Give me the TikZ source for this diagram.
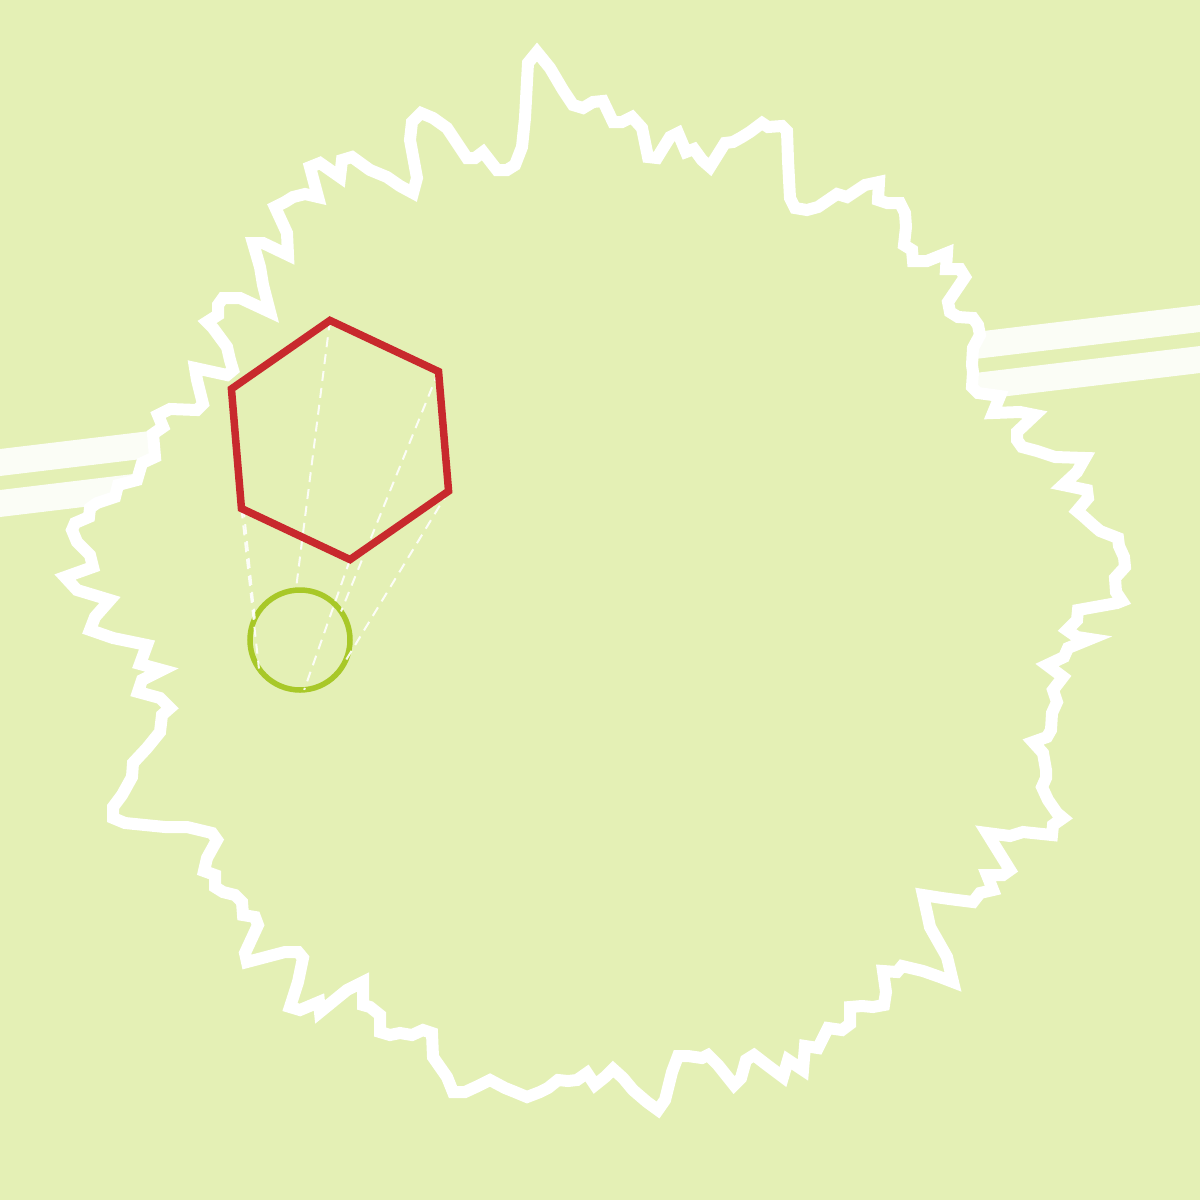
\documentclass[tikz,border=0pt]{standalone}
\usetikzlibrary{calc}
\definecolor{bgc}{RGB}{228,240,181}
\definecolor{hexred}{RGB}{200,41,45}
\definecolor{ringgreen}{RGB}{168,200,40}
\tikzset{
  barband/.style={line width=26.8pt, white, opacity=0.88, line cap=butt},
  outline/.style={line width=12pt, white, fill=bgc, line join=miter, miter limit=10},
  hexline/.style={line width=7.5pt, hexred, line join=miter},
  ringline/.style={line width=5.5pt, ringgreen},
  dashline/.style={line width=2pt, white, opacity=0.9, dash pattern=on 10pt off 7pt}
}
\begin{document}
\begin{tikzpicture}[x=1pt,y=-1pt]
\fill[bgc] (0,0) rectangle (1200,1200);
\useasboundingbox (0,0) rectangle (1200,1200);
% bar (two bands)
\coordinate (b1s) at (-5,463.1);
\coordinate (b1e) at (1205,317.9);
\coordinate (b2s) at (-5,504.1);
\coordinate (b2e) at (1205,358.9);
\draw[barband] (b1s) -- (b1e);
\draw[barband] (b2s) -- (b2e);
% jagged outline
\draw[outline] (203,404) -- (197,380) -- (195,368) -- (227,375) -- (233,370) -- (230,360) -- (227,347) -- (213,328) -- (207,322) -- (218,315) -- (218,305) -- (223,298) -- (240,298) -- (270,312) -- (263,285) -- (260,267) -- (253,243) -- (263,243) -- (288,255) -- (287,233) -- (275,207) -- (285,202) -- (293,197) -- (305,194) -- (318,197) -- (310,167) -- (320,163) -- (340,177) -- (342,160) -- (352,157) -- (370,170) -- (387,177) -- (400,186) -- (413,193) -- (417,178) -- (410,140) -- (412,122) -- (421,113) -- (433,118) -- (447,128) -- (467,158) -- (475,158) -- (483,152) -- (497,170) -- (507,170) -- (515,165) -- (522,147) -- (525,118) -- (528,63) -- (537,52) -- (550,68) -- (563,90) -- (573,105) -- (583,108) -- (593,102) -- (603,101) -- (613,122) -- (622,122) -- (632,117) -- (642,128) -- (648,157) -- (657,158) -- (670,137) -- (678,133) -- (686,152) -- (694,149) -- (702,160) -- (710,167) -- (725,143) -- (733,142) -- (742,137) -- (750,132) -- (762,123) -- (768,127) -- (782,126) -- (787,131) -- (788,160) -- (790,198) -- (795,208) -- (807,210) -- (818,207) -- (837,194) -- (847,197) -- (865,185) -- (879,182) -- (878,200) -- (887,203) -- (900,203) -- (905,213) -- (906,227) -- (904,245) -- (912,250) -- (913,261) -- (927,261) -- (947,253) -- (946,269) -- (960,269) -- (965,277) -- (948,302) -- (950,312) -- (958,317) -- (973,318) -- (978,325) -- (980,335) -- (973,348) -- (972,365) -- (973,372) -- (972,387) -- (978,393) -- (1000,396) -- (993,413) -- (1020,412) -- (1035,415) -- (1017,432) -- (1017,440) -- (1022,447) -- (1037,451) -- (1055,457) -- (1085,458) -- (1077,472) -- (1063,485) -- (1087,490) -- (1088,498) -- (1077,511) -- (1083,516) -- (1093,525) -- (1100,531) -- (1118,538) -- (1119,546) -- (1124,557) -- (1125,567) -- (1115,578) -- (1116,592) -- (1122,601) -- (1117,603) -- (1078,610) -- (1077,620) -- (1067,630) -- (1077,637) -- (1090,639) -- (1068,648) -- (1064,657) -- (1047,665) -- (1063,677) -- (1053,690) -- (1057,702) -- (1052,713) -- (1051,730) -- (1047,737) -- (1033,742) -- (1043,753) -- (1046,770) -- (1046,778) -- (1042,787) -- (1048,800) -- (1057,813) -- (1063,818) -- (1053,825) -- (1052,835) -- (1023,832) -- (1010,836) -- (987,833) -- (1010,870) -- (1003,875) -- (987,875) -- (993,890) -- (980,893) -- (973,902) -- (957,900) -- (942,898) -- (923,895) -- (927,913) -- (930,927) -- (947,957) -- (953,982) -- (940,977) -- (923,971) -- (902,966) -- (897,972) -- (883,971) -- (886,992) -- (884,1005) -- (873,1007) -- (862,1006) -- (850,1007) -- (850,1024) -- (842,1030) -- (828,1028) -- (818,1048) -- (805,1046) -- (803,1070) -- (788,1060) -- (783,1077) -- (767,1065) -- (754,1055) -- (746,1060) -- (741,1078) -- (734,1085) -- (718,1065) -- (708,1055) -- (702,1058) -- (688,1056) -- (678,1056) -- (672,1072) -- (665,1100) -- (658,1110) -- (647,1102) -- (633,1090) -- (623,1078) -- (613,1069) -- (605,1077) -- (595,1085) -- (587,1073) -- (577,1080) -- (568,1081) -- (558,1080) -- (548,1088) -- (540,1092) -- (527,1097) -- (515,1092) -- (505,1088) -- (490,1080) -- (478,1086) -- (465,1092) -- (453,1092) -- (447,1077) -- (433,1057) -- (432,1033) -- (423,1030) -- (412,1035) -- (400,1033) -- (390,1035) -- (380,1032) -- (380,1015) -- (370,1007) -- (363,1005) -- (363,982) -- (347,990) -- (320,1012) -- (319,1002) -- (300,1010) -- (290,1007) -- (298,982) -- (303,958) -- (298,952) -- (285,952) -- (247,962) -- (245,953) -- (258,925) -- (255,917) -- (243,915) -- (242,902) -- (235,895) -- (223,892) -- (215,887) -- (215,875) -- (204,871) -- (207,858) -- (217,840) -- (212,833) -- (187,827) -- (165,827) -- (145,825) -- (125,823) -- (113,818) -- (113,807) -- (122,795) -- (132,777) -- (133,763) -- (147,748) -- (160,732) -- (162,715) -- (170,708) -- (160,698) -- (138,692) -- (142,680) -- (162,670) -- (140,664) -- (147,645) -- (113,638) -- (90,630) -- (95,617) -- (110,600) -- (77,590) -- (65,577) -- (93,567) -- (90,555) -- (77,542) -- (72,530) -- (75,523) -- (89,517) -- (90,508) -- (97,503) -- (115,497) -- (118,485) -- (137,480) -- (142,463) -- (155,457) -- (153,434) -- (163,427) -- (158,415) -- (170,409) -- (197,410) -- cycle;
% hexagon and ring coordinates
\coordinate (hc) at (340,440);
\coordinate (rc) at (300,640);
\foreach \i in {0,...,5}{
  \pgfmathsetmacro\ang{-34.8-60*\i}
  \coordinate (h\i) at ($(hc)+(\ang:120)$);
  \coordinate (c\i) at ($(rc)+(\ang:50)$);
}
\draw[ringline] (rc) circle[radius=50];
\foreach \i in {0,...,5}{
  \draw[dashline] (h\i) -- (c\i);
}
\draw[hexline] (h0) -- (h1) -- (h2) -- (h3) -- (h4) -- (h5) -- cycle;
\end{tikzpicture}
\end{document}
